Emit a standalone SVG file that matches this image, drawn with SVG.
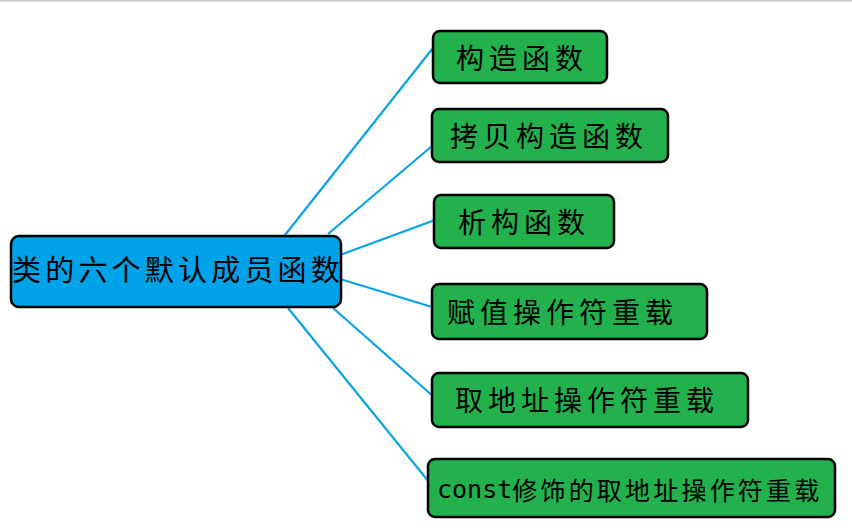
<svg xmlns="http://www.w3.org/2000/svg" width="852" height="532" viewBox="0 0 852 532">
<style>
.bg{fill:#ffffff}
.edge{stroke:#0aa2e6;stroke-width:2.2;fill:none}
.root{fill:#00a2e8;stroke:#000;stroke-width:2.5}
.leaf{fill:#22b14c;stroke:#000;stroke-width:2.5}
.t{font-family:"Noto Sans CJK SC","Noto Sans",sans-serif;fill:#000;dominant-baseline:central}
.lt{font-size:28px;letter-spacing:5px}
.mono{font-family:"DejaVu Sans Mono","Liberation Mono",monospace}
</style>
<rect class="bg" x="0" y="0" width="852" height="532"/>
<rect x="0" y="0" width="852" height="1.5" fill="#c8c8c8"/>
<g id="connectors">
<line class="edge" x1="285" y1="235" x2="433" y2="48"/>
<line class="edge" x1="328" y1="234" x2="432" y2="146"/>
<line class="edge" x1="340" y1="255" x2="435" y2="220"/>
<line class="edge" x1="340" y1="279" x2="432" y2="307"/>
<line class="edge" x1="333" y1="308" x2="434" y2="397"/>
<line class="edge" x1="288" y1="308" x2="429" y2="482"/>
</g>
<g id="root">
<rect class="root" x="11" y="236" width="330" height="71" rx="8"/>
<text class="t" x="12" y="268" font-size="29" letter-spacing="4.2">类的六个默认成员函数</text>
</g>
<g id="n1">
<rect class="leaf" x="433" y="31" width="174" height="52" rx="7"/>
<text class="t lt" x="456" y="57">构造函数</text>
</g>
<g id="n2">
<rect class="leaf" x="432" y="109" width="236" height="53" rx="7"/>
<text class="t lt" x="450" y="135">拷贝构造函数</text>
</g>
<g id="n3">
<rect class="leaf" x="434" y="195" width="180" height="53" rx="7"/>
<text class="t lt" x="458" y="221">析构函数</text>
</g>
<g id="n4">
<rect class="leaf" x="432" y="284" width="275" height="55" rx="7"/>
<text class="t lt" x="447" y="311">赋值操作符重载</text>
</g>
<g id="n5">
<rect class="leaf" x="432" y="373" width="316" height="54" rx="7"/>
<text class="t lt" x="455" y="399">取地址操作符重载</text>
</g>
<g id="n6">
<rect class="leaf" x="428" y="459" width="407" height="58" rx="7"/>
<text class="t" x="437" y="489" font-size="25"><tspan class="mono">const</tspan><tspan letter-spacing="3.2">修饰的取地址操作符重载</tspan></text>
</g>
</svg>
